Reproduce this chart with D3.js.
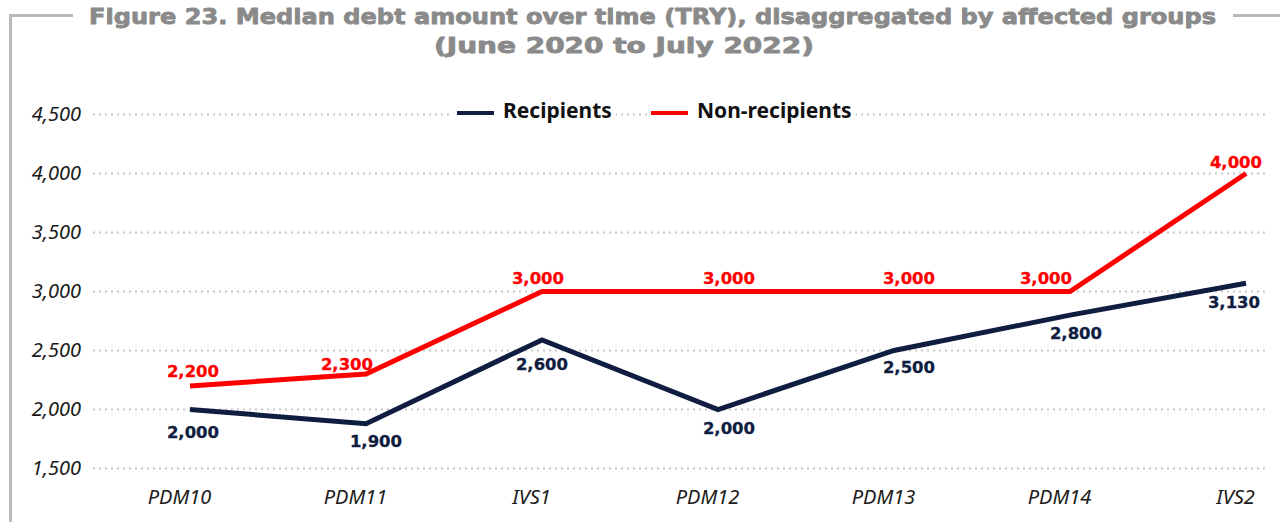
<!DOCTYPE html>
<html>
<head>
<meta charset="utf-8">
<script src="https://cdn.jsdelivr.net/npm/d3@7"></script>
<style>
  html, body { margin: 0; padding: 0; background: #fff; }
  svg { display: block; }
  .tick text { font-family: "Noto Sans", "Open Sans", sans-serif; font-style: italic; font-size: 20px; fill: #1a1a1a; }
  .val { font-family: "DejaVu Sans", sans-serif; font-weight: bold; font-size: 16.5px; stroke-width: 0.3px; }
  .legend text { font-family: "Noto Sans", sans-serif; font-weight: bold; font-size: 21px; fill: #111; }
</style>
</head>
<body>
<div id="chart"></div>
<script>
// survey rounds
const rounds = ["PDM10", "PDM11", "IVS1", "PDM12", "PDM13", "PDM14", "IVS2"];
// median debt in TRY, as drawn
const recipients = [2000, 1880, 2590, 2000, 2500, 2800, 3070];
const nonRecipients = [2200, 2300, 3000, 3000, 3000, 3000, 4000];
// printed data labels
const recipientsLabels = ["2,000", "1,900", "2,600", "2,000", "2,500", "2,800", "3,130"];
const nonRecipientsLabels = ["2,200", "2,300", "3,000", "3,000", "3,000", "3,000", "4,000"];
const yTicks = [1500, 2000, 2500, 3000, 3500, 4000, 4500];
const titleLines = [
    "Figure 23. Median debt amount over time (TRY), disaggregated by affected groups",
    "(June 2020 to July 2022)"
];

const width = 1280, height = 522;
const navy = "#0e1d40", red = "#ff0000";

const svg = d3.select("#chart").append("svg")
    .attr("width", width)
    .attr("height", height);

svg.append("rect").attr("width", width).attr("height", height).attr("fill", "#fff");

// frame round the figure
svg.append("path")
    .attr("d", "M73,15.5H10.5V522")
    .attr("fill", "none").attr("stroke", "#b9b9b9").attr("stroke-width", 3);
svg.append("path")
    .attr("d", "M1233,15.5H1280")
    .attr("fill", "none").attr("stroke", "#b9b9b9").attr("stroke-width", 3);

// title
const title = svg.append("g")
    .attr("font-family", "DejaVu Sans, sans-serif")
    .attr("font-weight", "bold")
    .attr("font-size", 21)
    .attr("fill", "#8a8a8a")
    .attr("stroke", "#8a8a8a")
    .attr("stroke-width", 0.8)
    .attr("stroke-linejoin", "round")
    .attr("text-anchor", "middle");
title.append("text").attr("x", 652.5).attr("y", 24)
    .attr("textLength", 1127).attr("lengthAdjust", "spacingAndGlyphs")
    .text(titleLines[0]);
title.append("text").attr("x", 624).attr("y", 53)
    .attr("textLength", 380).attr("lengthAdjust", "spacingAndGlyphs")
    .text(titleLines[1]);

const x = d3.scalePoint().domain(rounds).range([190, 1246]);
const y = d3.scaleLinear().domain([1500, 4500]).range([468.5, 114.5]);

// dotted grid
svg.append("g").selectAll("line")
    .data(yTicks)
    .join("line")
    .attr("x1", 93).attr("x2", 1268)
    .attr("y1", d => y(d)).attr("y2", d => y(d))
    .attr("stroke", "#c8c8c8")
    .attr("stroke-width", 2)
    .attr("stroke-dasharray", "2 4");

// y axis labels
const yAxis = svg.append("g")
    .attr("transform", "translate(81,0)")
    .call(d3.axisLeft(y).tickValues(yTicks).tickSize(0).tickPadding(0).tickFormat(d3.format(",")));
yAxis.select(".domain").remove();

// x axis labels
const xAxis = svg.append("g")
    .attr("transform", "translate(-11,490)")
    .call(d3.axisBottom(x).tickSize(0).tickPadding(0));
xAxis.select(".domain").remove();

// lines
const line = (vals) => d3.line()
    .x((d, i) => x(rounds[i]))
    .y(d => y(d))(vals);

svg.append("path")
    .attr("d", line(nonRecipients))
    .attr("fill", "none").attr("stroke", red).attr("stroke-width", 5)
    .attr("stroke-linejoin", "miter");
svg.append("path")
    .attr("d", line(recipients))
    .attr("fill", "none").attr("stroke", navy).attr("stroke-width", 5)
    .attr("stroke-linejoin", "miter");

// label nudges [dx, dy] relative to the point
const redNudge = [[3, -9], [-19, -4], [-4, -8], [11, -8], [15, -8], [-24, -8], [-10, -6]];
const navyNudge = [[3, 28], [10, 23], [0, 30], [11, 24], [15, 22], [6, 24], [-12, 25]];

svg.append("g").selectAll("text")
    .data(nonRecipients)
    .join("text")
    .attr("class", "val")
    .attr("text-anchor", "middle")
    .attr("fill", red).attr("stroke", red)
    .attr("x", (d, i) => x(rounds[i]) + redNudge[i][0])
    .attr("y", (d, i) => y(d) + redNudge[i][1])
    .text((d, i) => nonRecipientsLabels[i]);

svg.append("g").selectAll("text")
    .data(recipients)
    .join("text")
    .attr("class", "val")
    .attr("text-anchor", "middle")
    .attr("fill", navy).attr("stroke", navy)
    .attr("x", (d, i) => x(rounds[i]) + navyNudge[i][0])
    .attr("y", (d, i) => y(d) + navyNudge[i][1])
    .text((d, i) => recipientsLabels[i]);

// legend
const legendItems = [
    {name: "Recipients", color: navy, x: 457},
    {name: "Non-recipients", color: red, x: 651}
];
const legend = svg.append("g").attr("class", "legend");
const items = legend.selectAll("g")
    .data(legendItems)
    .join("g")
    .attr("transform", d => "translate(" + d.x + ",113)");
items.append("rect")
    .attr("x", -4).attr("y", -14)
    .attr("height", 26).attr("fill", "#fff");
items.append("line")
    .attr("x1", 0).attr("x2", 37)
    .attr("stroke", d => d.color).attr("stroke-width", 4);
items.append("text")
    .attr("x", 46).attr("y", 5)
    .text(d => d.name);
items.each(function () {
    const g = d3.select(this);
    const w = g.select("text").node().getComputedTextLength();
    g.select("rect").attr("width", 46 + w + 8);
});
</script>
</body>
</html>
